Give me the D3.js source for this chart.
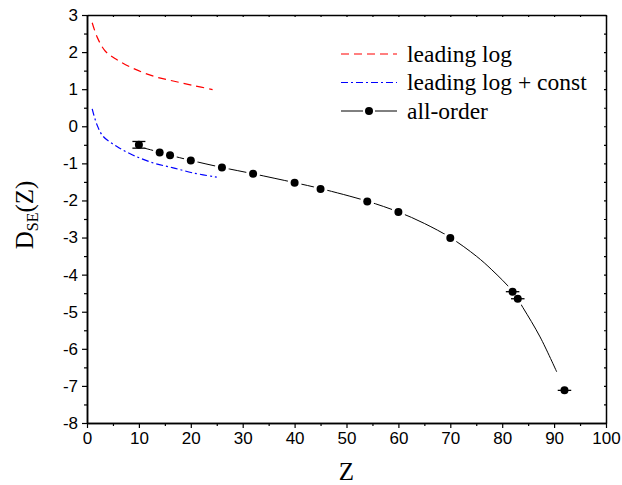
<!DOCTYPE html>
<html>
<head>
<meta charset="utf-8">
<script src="https://cdn.jsdelivr.net/npm/d3@7"></script>
<style>
  html, body { margin: 0; padding: 0; background: #fff; }
  svg { display: block; }
</style>
</head>
<body>
<svg id="chart" width="622" height="485"></svg>
<script>
// ---- data ----
const xTicks = [0, 10, 20, 30, 40, 50, 60, 70, 80, 90, 100];
const yTicks = [3, 2, 1, 0, -1, -2, -3, -4, -5, -6, -7, -8];

// leading log (red dashed)
const llZ = [1, 2, 3.5, 5.7, 8.9, 12.8, 16.6, 20.5, 24.2];
const llD = [2.79, 2.39, 2.03, 1.80, 1.56, 1.35, 1.22, 1.10, 0.99];

// leading log + const (blue dash-dot)
const lcZ = [1, 1.9, 3.1, 5.7, 8.9, 12.8, 16.6, 20.5, 25];
const lcD = [0.47, 0.05, -0.27, -0.54, -0.78, -0.99, -1.12, -1.26, -1.37];

// all-order curve (black solid)
const aoZ = [10, 14, 16, 20, 26, 32, 40, 45, 54, 60, 65, 70, 75, 78, 82, 84, 87.3, 90.5];
const aoD = [-0.55, -0.70, -0.78, -0.92, -1.11, -1.28, -1.52, -1.68, -2.02, -2.31, -2.62, -3.0, -3.5, -3.87, -4.45, -4.89, -5.68, -6.62];

// data points (black circles)
const ptZ   = [10, 14, 16, 20, 26, 32, 40, 45, 54, 60, 70, 82, 83, 92];
const ptD   = [-0.50, -0.71, -0.78, -0.92, -1.11, -1.28, -1.52, -1.69, -2.03, -2.31, -3.01, -4.46, -4.65, -7.12];
const ptYerr = [0.09, 0, 0, 0, 0, 0, 0, 0, 0, 0, 0, 0, 0, 0];
const ptXerr = [0, 0, 0, 0, 0, 0, 0, 0, 0, 0, 0, 1.3, 1.3, 1.3];

const legendLabels = ["leading log", "leading log + const", "all-order"];

// ---- layout ----
const L = 87, R = 606, T = 15, B = 423;
const svg = d3.select("#chart");
const x = d3.scaleLinear().domain([0, 100]).range([L, R]);
const y = d3.scaleLinear().domain([-8, 3]).range([B, T]);

const tickFont = "'Liberation Sans', Arial, sans-serif";
const serif = "'Liberation Serif', 'Times New Roman', serif";

// minor ticks
const xMinor = d3.range(5, 100, 10);
const yMinor = d3.range(-7.5, 3, 1);

function styleAxis(g) {
  g.select(".domain").attr("stroke", "#000").attr("stroke-width", 1.5);
  g.selectAll(".tick line").attr("stroke", "#000").attr("stroke-width", 1.2);
  g.selectAll(".tick text").attr("fill", "#000")
    .style("font-family", tickFont).style("font-size", "17px");
}

// bottom axis
svg.append("g").attr("transform", `translate(0,${B})`)
  .call(d3.axisBottom(x).tickValues(xMinor).tickSize(3).tickSizeOuter(0).tickFormat(""))
  .call(styleAxis);
svg.append("g").attr("transform", `translate(0,${B})`)
  .call(d3.axisBottom(x).tickValues(xTicks).tickSize(5).tickSizeOuter(0).tickPadding(4).tickFormat(d => String(d)))
  .call(styleAxis);

// left axis
svg.append("g").attr("transform", `translate(${L},0)`)
  .call(d3.axisLeft(y).tickValues(yMinor).tickSize(3).tickSizeOuter(0).tickFormat(""))
  .call(styleAxis);
svg.append("g").attr("transform", `translate(${L},0)`)
  .call(d3.axisLeft(y).tickValues(yTicks).tickSize(5).tickSizeOuter(0).tickPadding(4).tickFormat(d => String(d)))
  .call(styleAxis);

// top axis (small inward ticks)
svg.append("g").attr("transform", `translate(0,${T})`)
  .call(d3.axisBottom(x).tickValues(xTicks.concat(xMinor)).tickSize(2).tickSizeOuter(0).tickFormat(""))
  .call(styleAxis);
// right axis
svg.append("g").attr("transform", `translate(${R},0)`)
  .call(d3.axisLeft(y).tickValues(yTicks.concat(yMinor)).tickSize(2).tickSizeOuter(0).tickFormat(""))
  .call(styleAxis);

// ---- curves ----
const line = d3.line().x(d => x(d[0])).y(d => y(d[1])).curve(d3.curveCatmullRom.alpha(0.5));

svg.append("path").datum(d3.zip(llZ, llD))
  .attr("d", line).attr("fill", "none").attr("stroke", "#ff0000")
  .attr("stroke-width", 1.2).attr("stroke-dasharray", "8,5");

svg.append("path").datum(d3.zip(lcZ, lcD))
  .attr("d", line).attr("fill", "none").attr("stroke", "#0000ff")
  .attr("stroke-width", 1.2).attr("stroke-dasharray", "7,3,2,3");

svg.append("path").datum(d3.zip(aoZ, aoD))
  .attr("d", line).attr("fill", "none").attr("stroke", "#000")
  .attr("stroke-width", 1);

// ---- points ----
const pts = ptZ.map((z, i) => ({ z, d: ptD[i], ye: ptYerr[i], xe: ptXerr[i] }));

// gaps around markers
svg.append("g").selectAll("circle").data(pts).join("circle")
  .attr("cx", d => x(d.z)).attr("cy", d => y(d.d)).attr("r", 7).attr("fill", "#fff");

const eg = svg.append("g").attr("stroke", "#000").attr("stroke-width", 1.3);
pts.filter(d => d.ye > 0).forEach(d => {
  eg.append("line").attr("x1", x(d.z)).attr("x2", x(d.z)).attr("y1", y(d.d + d.ye)).attr("y2", y(d.d - d.ye));
  [d.d + d.ye, d.d - d.ye].forEach(v => {
    eg.append("line").attr("x1", x(d.z) - 6.5).attr("x2", x(d.z) + 6.5).attr("y1", y(v)).attr("y2", y(v));
  });
});
pts.filter(d => d.xe > 0).forEach(d => {
  eg.append("line").attr("x1", x(d.z - d.xe)).attr("x2", x(d.z + d.xe)).attr("y1", y(d.d)).attr("y2", y(d.d));
});

svg.append("g").selectAll("circle").data(pts).join("circle")
  .attr("cx", d => x(d.z)).attr("cy", d => y(d.d)).attr("r", 4).attr("fill", "#000");

// ---- legend ----
const lg = svg.append("g");
const lx0 = 341, lx1 = 397, tx = 407;
const rows = [54, 82.5, 111];
lg.append("line").attr("x1", lx0).attr("x2", lx1).attr("y1", rows[0]).attr("y2", rows[0])
  .attr("stroke", "#ff0000").attr("stroke-width", 1.2).attr("stroke-dasharray", "8,5");
lg.append("line").attr("x1", lx0).attr("x2", lx1).attr("y1", rows[1]).attr("y2", rows[1])
  .attr("stroke", "#0000ff").attr("stroke-width", 1.2).attr("stroke-dasharray", "7,3,2,3");
const mid = (lx0 + lx1) / 2;
lg.append("line").attr("x1", lx0).attr("x2", mid - 6).attr("y1", rows[2]).attr("y2", rows[2])
  .attr("stroke", "#000").attr("stroke-width", 1);
lg.append("line").attr("x1", mid + 6).attr("x2", lx1).attr("y1", rows[2]).attr("y2", rows[2])
  .attr("stroke", "#000").attr("stroke-width", 1);
lg.append("circle").attr("cx", mid).attr("cy", rows[2]).attr("r", 4).attr("fill", "#000");
legendLabels.forEach((t, i) => {
  lg.append("text").attr("x", tx).attr("y", rows[i]).attr("dy", "0.32em")
    .style("font-family", serif).style("font-size", "23.5px").attr("fill", "#000").text(t);
});

// ---- axis titles ----
svg.append("text").attr("x", (L + R) / 2).attr("y", 480).attr("text-anchor", "middle")
  .style("font-family", serif).style("font-size", "25px").text("Z");

const yt = svg.append("text").attr("transform", `translate(33,${(T + B) / 2 - 4}) rotate(-90)`)
  .attr("text-anchor", "middle").style("font-family", serif).style("font-size", "25px");
yt.append("tspan").text("D");
yt.append("tspan").attr("dy", 5).style("font-size", "16px").text("SE");
yt.append("tspan").attr("dy", -5).text("(Z)");
</script>
</body>
</html>
